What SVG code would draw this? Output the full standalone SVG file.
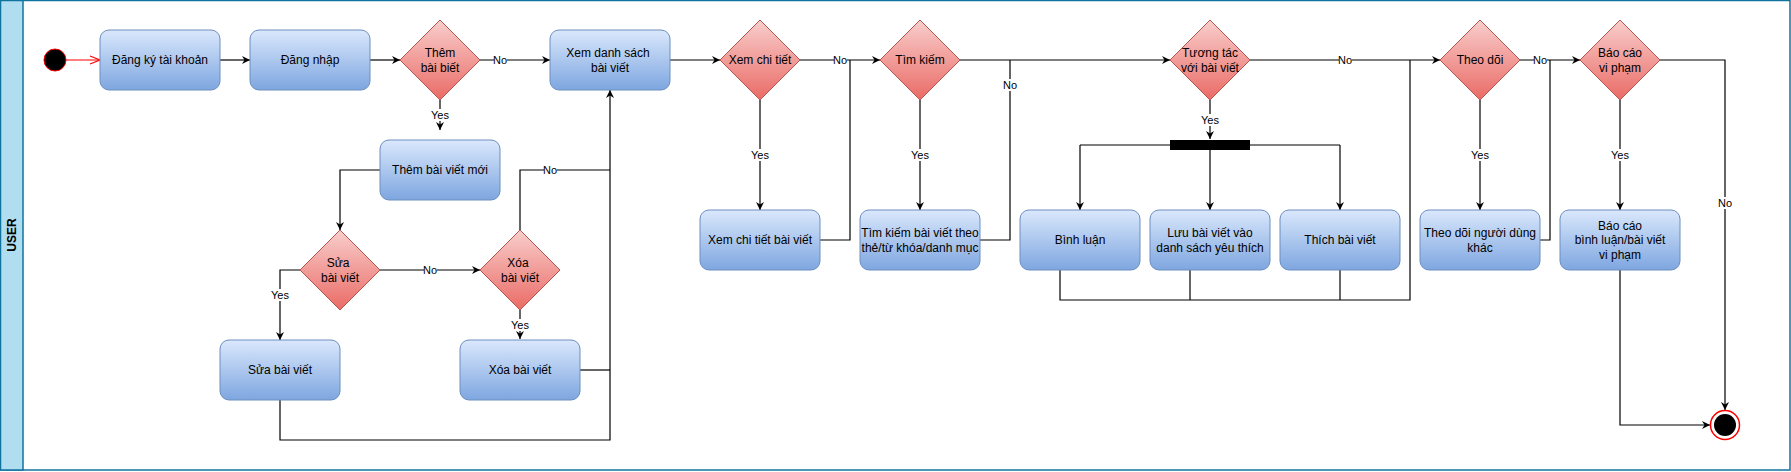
<svg xmlns="http://www.w3.org/2000/svg" width="1791" height="472" viewBox="0 0 1791 472">
<style>
.box{fill:url(#gBlue);stroke:#6c8ebf;stroke-width:1}
.dia{fill:url(#gRed);stroke:#b85450;stroke-width:1}
.t{font-family:"Liberation Sans",Arial,sans-serif;font-size:12px;fill:#000;text-anchor:middle;dominant-baseline:central}
.lbl{font-family:"Liberation Sans",Arial,sans-serif;font-size:11px;fill:#000;text-anchor:middle;dominant-baseline:central}
.lb{fill:#fff}
.c{fill:none;stroke:#000;stroke-width:1.2}
.ca{fill:none;stroke:#000;stroke-width:1.2;marker-end:url(#arr)}
</style>
<defs>
<linearGradient id="gBlue" x1="0" y1="0" x2="0" y2="1"><stop offset="0" stop-color="#dae8fc"/><stop offset="1" stop-color="#7ea6e0"/></linearGradient>
<linearGradient id="gRed" x1="0" y1="0" x2="0" y2="1"><stop offset="0" stop-color="#f8cecc"/><stop offset="1" stop-color="#ea6b66"/></linearGradient>
<marker id="arr" markerUnits="userSpaceOnUse" markerWidth="10" markerHeight="10" refX="8" refY="4" orient="auto" overflow="visible"><path d="M0,0 L8,4 L0,8 L2.5,4 Z" fill="#000"/></marker>
<marker id="open" markerUnits="userSpaceOnUse" markerWidth="12" markerHeight="12" refX="10" refY="4" orient="auto" overflow="visible"><path d="M0,0 L10,4 L0,8" fill="none" stroke="#ff0000" stroke-width="1.2"/></marker>
</defs>
<g id="pool">
<rect x="0.5" y="0.5" width="1789.5" height="469.5" fill="#fff" stroke="#10739e" stroke-width="1.5"/>
<rect x="0.5" y="0.5" width="22.5" height="469.5" fill="#b1ddf0" stroke="#10739e" stroke-width="1.5"/>
<text class="t" transform="translate(12,235) rotate(-90)" font-weight="bold">USER</text>
</g>
<g id="connectors">
<path d="M66,60 L100,60" fill="none" stroke="#ff0000" stroke-width="1.2" marker-end="url(#open)"/>
<path class="ca" d="M220,60 L250,60"/>
<path class="ca" d="M370,60 L400,60"/>
<path class="ca" d="M480,60 L550,60"/>
<path class="ca" d="M440,100 L440,130"/>
<path class="ca" d="M380,170 L340,170 L340,230"/>
<path class="ca" d="M300,270 L280,270 L280,340"/>
<path class="ca" d="M380,270 L480,270"/>
<path class="ca" d="M520,310 L520,339"/>
<path class="c" d="M520,230 L520,170 L610,170"/>
<path class="ca" d="M280,400 L280,440 L610,440 L610,90"/>
<path class="c" d="M580,370 L610,370"/>
<path class="ca" d="M670,60 L720,60"/>
<path class="ca" d="M800,60 L880,60"/>
<path class="ca" d="M760,100 L760,210"/>
<path class="c" d="M820,240 L850,240 L850,60"/>
<path class="ca" d="M960,60 L1170,60"/>
<path class="ca" d="M920,100 L920,210"/>
<path class="c" d="M980,240 L1010,240 L1010,60"/>
<path class="ca" d="M1210,100 L1210,139"/>
<path class="c" d="M1080,145 L1340,145"/>
<path class="ca" d="M1080,145 L1080,210"/>
<path class="ca" d="M1210,150 L1210,210"/>
<path class="ca" d="M1340,145 L1340,210"/>
<path class="c" d="M1060,270 L1060,300 L1410,300 L1410,60"/>
<path class="c" d="M1190,270 L1190,300"/>
<path class="c" d="M1340,270 L1340,300"/>
<path class="ca" d="M1250,60 L1440,60"/>
<path class="ca" d="M1480,100 L1480,210"/>
<path class="c" d="M1540,240 L1550,240 L1550,60"/>
<path class="ca" d="M1520,60 L1580,60"/>
<path class="ca" d="M1620,100 L1620,210"/>
<path class="ca" d="M1660,60 L1725,60 L1725,410"/>
<path class="ca" d="M1620,270 L1620,425 L1710,425"/>
<g id="labels">
<rect class="lb" x="494" y="54" width="13" height="12"/><text class="lbl" x="500" y="60">No</text>
<rect class="lb" x="430" y="109" width="20" height="12"/><text class="lbl" x="440" y="115">Yes</text>
<rect class="lb" x="270" y="289" width="20" height="12"/><text class="lbl" x="280" y="295">Yes</text>
<rect class="lb" x="424" y="264" width="13" height="12"/><text class="lbl" x="430" y="270">No</text>
<rect class="lb" x="510" y="319" width="20" height="12"/><text class="lbl" x="520" y="325">Yes</text>
<rect class="lb" x="544" y="164" width="13" height="12"/><text class="lbl" x="550" y="170">No</text>
<rect class="lb" x="834" y="54" width="13" height="12"/><text class="lbl" x="840" y="60">No</text>
<rect class="lb" x="750" y="149" width="20" height="12"/><text class="lbl" x="760" y="155">Yes</text>
<rect class="lb" x="910" y="149" width="20" height="12"/><text class="lbl" x="920" y="155">Yes</text>
<rect class="lb" x="1004" y="79" width="13" height="12"/><text class="lbl" x="1010" y="85">No</text>
<rect class="lb" x="1200" y="114" width="20" height="12"/><text class="lbl" x="1210" y="120">Yes</text>
<rect class="lb" x="1339" y="54" width="13" height="12"/><text class="lbl" x="1345" y="60">No</text>
<rect class="lb" x="1470" y="149" width="20" height="12"/><text class="lbl" x="1480" y="155">Yes</text>
<rect class="lb" x="1534" y="54" width="13" height="12"/><text class="lbl" x="1540" y="60">No</text>
<rect class="lb" x="1610" y="149" width="20" height="12"/><text class="lbl" x="1620" y="155">Yes</text>
<rect class="lb" x="1719" y="197" width="13" height="12"/><text class="lbl" x="1725" y="203">No</text>
</g>
</g>
<g id="start"><circle cx="55" cy="60" r="11" fill="#000" stroke="#ff0000" stroke-width="1"/></g>
<g id="n-dangky"><rect class="box" x="100" y="30" width="120" height="60" rx="9"/><text class="t" x="160" y="60">Đăng ký tài khoản</text></g>
<g id="n-dangnhap"><rect class="box" x="250" y="30" width="120" height="60" rx="9"/><text class="t" x="310" y="60">Đăng nhập</text></g>
<g id="d-them"><polygon class="dia" points="440,20 480,60 440,100 400,60"/><text class="t" x="440" y="53">Thêm</text><text class="t" x="440" y="68">bài biết</text></g>
<g id="n-xemds"><rect class="box" x="550" y="30" width="120" height="60" rx="9"/><text class="t" x="608" y="53">Xem danh sách</text><text class="t" x="610" y="68">bài viết</text></g>
<g id="n-themmoi"><rect class="box" x="380" y="140" width="120" height="60" rx="9"/><text class="t" x="440" y="170">Thêm bài viết mới</text></g>
<g id="d-sua"><polygon class="dia" points="340,230 380,270 340,310 300,270"/><text class="t" x="338" y="263">Sửa</text><text class="t" x="340" y="278">bài viết</text></g>
<g id="n-sua"><rect class="box" x="220" y="340" width="120" height="60" rx="9"/><text class="t" x="280" y="370">Sửa bài viết</text></g>
<g id="d-xoa"><polygon class="dia" points="520,230 560,270 520,310 480,270"/><text class="t" x="518" y="263">Xóa</text><text class="t" x="520" y="278">bài viết</text></g>
<g id="n-xoa"><rect class="box" x="460" y="340" width="120" height="60" rx="9"/><text class="t" x="520" y="370">Xóa bài viết</text></g>
<g id="d-xemct"><polygon class="dia" points="760,20 800,60 760,100 720,60"/><text class="t" x="760" y="60">Xem chi tiết</text></g>
<g id="n-xemct"><rect class="box" x="700" y="210" width="120" height="60" rx="9"/><text class="t" x="760" y="240">Xem chi tiết bài viết</text></g>
<g id="d-timkiem"><polygon class="dia" points="920,20 960,60 920,100 880,60"/><text class="t" x="920" y="60">Tìm kiếm</text></g>
<g id="n-timkiem"><rect class="box" x="860" y="210" width="120" height="60" rx="9"/><text class="t" x="920" y="233">Tìm kiếm bài viết theo</text><text class="t" x="920" y="248">thẻ/từ khóa/danh mục</text></g>
<g id="d-tuongtac"><polygon class="dia" points="1210,20 1250,60 1210,100 1170,60"/><text class="t" x="1210" y="53">Tương tác</text><text class="t" x="1210" y="68">với bài viết</text></g>
<g id="fork"><rect x="1170" y="140" width="80" height="10" fill="#000"/></g>
<g id="n-binhluan"><rect class="box" x="1020" y="210" width="120" height="60" rx="9"/><text class="t" x="1080" y="240">Bình luận</text></g>
<g id="n-luu"><rect class="box" x="1150" y="210" width="120" height="60" rx="9"/><text class="t" x="1210" y="233">Lưu bài viết vào</text><text class="t" x="1210" y="248">danh sách yêu thích</text></g>
<g id="n-thich"><rect class="box" x="1280" y="210" width="120" height="60" rx="9"/><text class="t" x="1340" y="240">Thích bài viết</text></g>
<g id="d-theodoi"><polygon class="dia" points="1480,20 1520,60 1480,100 1440,60"/><text class="t" x="1480" y="60">Theo dõi</text></g>
<g id="n-theodoi"><rect class="box" x="1420" y="210" width="120" height="60" rx="9"/><text class="t" x="1480" y="233">Theo dõi người dùng</text><text class="t" x="1480" y="248">khác</text></g>
<g id="d-baocao"><polygon class="dia" points="1620,20 1660,60 1620,100 1580,60"/><text class="t" x="1620" y="53">Báo cáo</text><text class="t" x="1620" y="68">vi phạm</text></g>
<g id="n-baocao"><rect class="box" x="1560" y="210" width="120" height="60" rx="9"/><text class="t" x="1620" y="226">Báo cáo</text><text class="t" x="1620" y="240">bình luận/bài viết</text><text class="t" x="1620" y="255">vi phạm</text></g>
<g id="end"><circle cx="1725" cy="425" r="14.5" fill="#fff" stroke="#ff0000" stroke-width="1.5"/><circle cx="1725" cy="425" r="11" fill="#000"/></g>
</svg>
